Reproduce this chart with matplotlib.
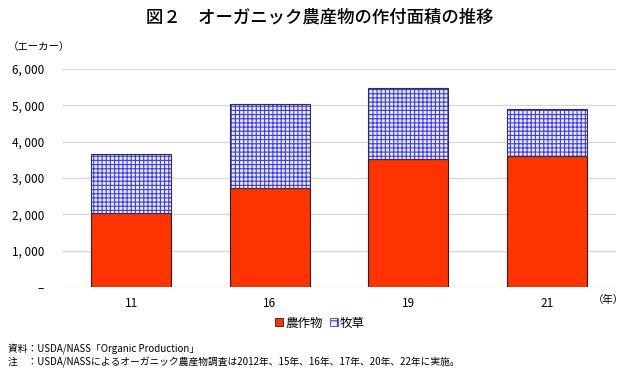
import matplotlib
matplotlib.use("Agg")
import matplotlib.pyplot as plt
from matplotlib.patches import Patch
import numpy as np

plt.rcParams['font.family'] = ['Noto Sans CJK JP', 'DejaVu Sans']
plt.rcParams['hatch.linewidth'] = 0.8

years = ['11', '16', '19', '21']
crops = [2040, 2730, 3520, 3610]
pasture_total = [3650, 5030, 5480, 4890]
pasture = [t - c for t, c in zip(pasture_total, crops)]
yticks = [0, 1000, 2000, 3000, 4000, 5000, 6000]

fig = plt.figure(figsize=(6.4, 3.73), dpi=100)
ax = fig.add_axes([62/640, 1-287/373, (616-62)/640, (287-69)/373])

x = np.arange(len(years))
w = 0.575
crop_color = '#FF3300'
hatch_blue = '#3a3aff'
ax.bar(x, crops, width=w, color=crop_color, edgecolor='#222222', linewidth=0.8, zorder=3)
# pasture with blue grid hatch
ax.bar(x, pasture, bottom=crops, width=w, color='#eeeeff', edgecolor=hatch_blue,
       hatch='++++', linewidth=0, zorder=3)
ax.bar(x, pasture, bottom=crops, width=w, color='none', edgecolor='#333333',
       linewidth=0.8, zorder=4)

ax.set_xlim(-0.5, len(years) - 0.5)
ax.set_ylim(0, 6000)
ax.set_yticks(yticks)
ax.set_yticklabels(['–' if v == 0 else f"{v:,}".replace(',', ', ') for v in yticks], fontsize=8.5)
ax.set_xticks(x)
ax.set_xticklabels(years, fontsize=8.5)
ax.tick_params(axis='both', length=0, pad=7)
ax.tick_params(axis='y', pad=13)
for s in ax.spines.values():
    s.set_visible(False)
ax.yaxis.grid(True, color='#d9d9d9', linewidth=1.0, zorder=0)
ax.set_axisbelow(True)

fig.text(0.5, 1-18/373, '図２　オーガニック農産物の作付面積の推移', ha='center', va='center',
         fontsize=12.5, fontweight='medium')
fig.text(8/640, 1-47/373, '（エーカー）', ha='left', va='center', fontsize=7.5)
fig.text(608/640, 1-300/373, '（年）', ha='center', va='center', fontsize=7.5)

handles = [Patch(facecolor=crop_color, edgecolor='#222222', linewidth=0.6),
           Patch(facecolor='#eeeeff', edgecolor=hatch_blue, hatch='++', linewidth=0.6)]
fig.legend(handles, ['農作物', '牧草'], loc='center', bbox_to_anchor=(0.5, 1-323/373),
           ncol=2, frameon=False, fontsize=9, handlelength=0.6, handleheight=0.6,
           handletextpad=0.2, columnspacing=0.6)

fig.text(8/640, 1-349/373, '資料：USDA/NASS「Organic Production」', ha='left', va='center', fontsize=7)
fig.text(8/640, 1-362/373, '注　：USDA/NASSによるオーガニック農産物調査は2012年、15年、16年、17年、20年、22年に実施。',
         ha='left', va='center', fontsize=7)

fig.savefig('out.png', dpi=100)
